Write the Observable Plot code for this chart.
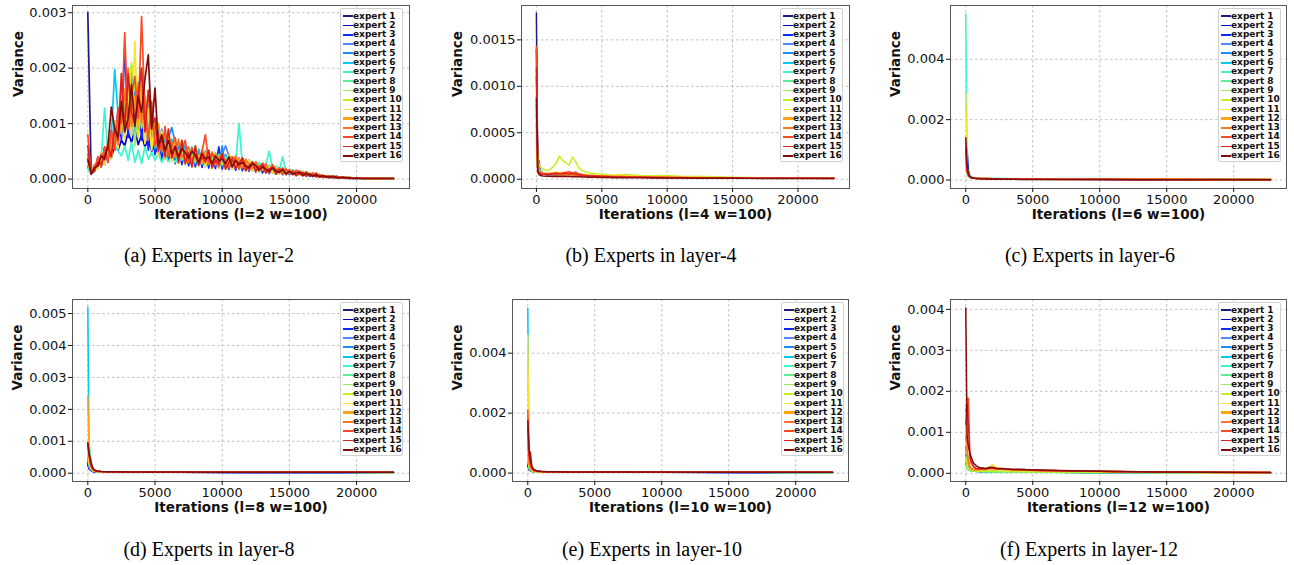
<!DOCTYPE html>
<html><head><meta charset="utf-8">
<script src="https://cdn.jsdelivr.net/npm/d3@7"></script>
<script src="https://cdn.jsdelivr.net/npm/@observablehq/plot@0.6"></script>
<style>
body{margin:0;background:#fff;}
#root{position:relative;width:1294px;height:565px;overflow:hidden;background:#fff;}
.panel{position:absolute;}
.legend{position:absolute;width:63px;height:154px;box-sizing:border-box;padding-top:2.6px;background:rgba(255,255,255,0.85);border:1px solid #d0d0d0;border-radius:2px;font:bold 9px "DejaVu Sans",sans-serif;color:#111;}
.legend .row{height:9.3px;line-height:9.3px;position:relative;white-space:nowrap;}
.legend .sw{position:absolute;left:2px;width:10px;top:50%;}
.legend .lb{position:absolute;left:12px;top:0;}
.caption{position:absolute;font:20px "Liberation Serif","Times New Roman",serif;white-space:nowrap;transform:translate(-50%,-50%);color:#000;}
</style></head>
<body><div id="root"></div>
<script>
const experts = ["expert 1","expert 2","expert 3","expert 4","expert 5","expert 6","expert 7","expert 8","expert 9","expert 10","expert 11","expert 12","expert 13","expert 14","expert 15","expert 16"];
const colors = ["#1c1c86","#0000cc","#0a2bff","#5088ff","#1a8cff","#00c8f5","#3cf5cf","#5aee98","#98ee5a","#c8f01e","#ffe12e","#ffa514","#ff7424","#ff4a26","#dc2020","#820c0c"];
const legendWidths = [2,1.2,2.2,2,2,1.6,2,2,1.4,2,1.3,2.2,2,2.2,1.6,2];
const xTicks = [0,5000,10000,15000,20000];
const xDomain = [-1140, 23940];

// ---- panel (a) layer 2, values in units of 1e-5 ----
const xA = [0,250,500,750,1000,1250,1500,1750,2000,2250,2500,2750,3000,3250,3500,3750,4000,4250,4500,4750,5000,5250,5500,5750,6000,6250,6500,6750,7000,7250,7500,7750,8000,8250,8500,8750,9000,9250,9500,9750,10000,10250,10500,10750,11000,11250,11500,11750,12000,12250,12500,12750,13000,13250,13500,13750,14000,14250,14500,14750,15000,15250,15500,15750,16000,16250,16500,16750,17000,17250,17500,17750,18000,18250,18500,18750,19000,19250,19500,19750,20000,20250,20500,20750,21000,21250,21500,21750,22000,22250,22500,22750];
const valsA = [
[300,10,17,33,30,50,42,70,64,105,88,140,100,150,98,140,92,118,74,96,60,78,50,66,44,58,40,52,36,48,33,45,31,43,30,41,28,38,27,36,26,36,25,34,23,31,21,28,19,26,17,24,16,21,14,19,12,17,11,15,10,14,9,12,8,11,7,9,6,8,4,6,3,5,3,4,2,3,2,2,1,2,1,1,1,1,1,1,1,1,1,1],
[22,9,20,26,34,30,46,40,58,52,70,60,85,66,90,62,80,58,72,50,62,44,52,40,46,36,42,33,40,30,36,28,35,27,33,26,32,25,30,24,29,23,27,22,26,21,24,20,22,18,20,16,18,15,17,13,15,12,13,11,11,10,9,9,8,7,7,6,5,5,4,4,3,3,2,2,2,2,1,1,1,1,1,1,1,1,1,1,1,1,1,1],
[30,10,14,40,22,58,30,88,52,128,70,242,75,185,82,160,70,140,52,118,44,95,36,80,32,70,28,64,26,60,24,56,22,52,21,50,20,46,19,58,18,44,17,40,16,38,15,34,14,31,13,29,11,26,10,23,9,20,8,18,8,16,7,15,6,13,5,11,4,8,3,6,3,5,2,4,2,3,1,2,1,2,1,2,1,1,1,1,1,1,1,1],
[45,11,26,22,46,34,66,45,98,62,165,80,190,88,170,92,180,75,140,70,110,48,90,42,78,37,70,33,64,31,58,28,55,27,52,26,49,25,46,24,45,60,42,22,39,21,36,20,33,19,31,17,28,15,25,14,22,12,20,11,17,10,15,9,13,8,11,6,9,5,7,4,6,3,5,3,4,2,3,1,2,1,1,1,1,1,1,1,1,1,1,1],
[28,11,24,18,48,25,70,36,105,55,150,72,172,80,178,76,150,64,128,52,102,42,86,36,74,93,66,28,60,26,56,24,53,23,50,22,47,21,46,20,60,19,42,18,40,17,37,16,35,15,30,13,27,12,24,11,21,9,19,8,17,8,15,7,13,6,11,5,9,4,7,3,6,3,4,2,4,2,3,1,2,1,2,1,1,1,1,1,1,1,1,1],
[40,12,20,36,28,52,38,76,198,118,82,160,96,205,90,175,110,150,70,120,55,100,48,82,42,72,38,66,34,60,30,58,28,54,27,50,26,47,25,45,24,44,23,40,22,37,21,33,20,30,18,27,16,24,14,21,12,19,11,17,10,15,9,13,8,11,7,9,6,8,5,6,4,5,3,4,2,3,2,2,1,2,1,1,1,1,1,1,1,1,1,1],
[20,8,22,30,38,128,45,55,60,50,42,60,34,66,30,52,28,58,36,48,34,46,30,44,32,40,30,44,34,46,32,44,36,40,30,46,34,42,30,44,32,40,30,38,28,100,26,34,24,32,22,30,20,26,50,18,24,16,40,14,18,12,16,11,14,9,12,8,10,6,7,4,6,3,5,3,4,2,3,2,2,1,2,1,1,1,1,1,1,1,1,1],
[26,9,21,24,42,36,60,50,90,76,125,98,145,105,142,96,128,80,104,66,84,54,70,46,60,40,54,37,50,34,46,32,44,30,42,29,39,27,38,26,36,25,34,24,32,22,29,20,27,18,24,16,22,14,20,13,17,11,15,10,14,9,12,8,11,7,9,6,8,5,6,4,5,3,4,3,3,2,2,1,2,1,1,1,1,1,1,1,1,1,1,1],
[32,10,17,33,30,50,42,70,64,105,88,140,130,150,60,140,92,118,74,96,60,78,50,66,44,58,40,52,36,48,33,45,31,43,30,41,28,38,27,36,26,36,25,34,23,31,21,28,19,26,17,24,16,21,14,19,12,17,11,15,10,14,9,12,8,11,7,9,6,8,4,6,3,5,3,4,2,3,2,2,1,2,1,1,1,1,1,1,1,1,1,1],
[35,10,16,30,26,44,60,40,92,70,190,90,120,210,160,150,200,85,160,95,110,50,75,40,90,38,60,30,70,28,48,22,60,25,40,30,52,20,34,28,46,18,30,36,20,28,38,15,24,30,14,22,26,11,18,21,9,16,18,8,13,14,6,11,12,5,9,8,4,7,5,3,5,4,2,3,3,1,2,2,1,2,1,1,1,1,1,1,1,1,1,1],
[28,11,24,18,48,25,70,36,105,55,150,72,172,80,248,76,150,64,128,52,102,42,86,36,74,31,66,28,60,26,56,24,53,23,50,22,47,21,46,20,44,19,42,18,40,17,37,16,35,15,30,13,27,12,24,11,21,9,19,8,17,8,15,7,13,6,11,5,9,4,7,3,6,3,4,2,4,2,3,1,2,1,2,1,1,1,1,1,1,1,1,1],
[40,12,20,36,28,52,38,76,58,118,82,160,180,120,150,90,175,110,150,95,75,100,60,82,48,55,72,40,66,34,48,30,58,38,28,50,34,26,47,30,38,24,44,30,22,37,26,33,20,25,30,18,22,27,14,21,16,19,11,17,13,10,15,8,11,9,7,10,6,8,5,6,4,5,3,4,2,3,2,2,1,2,1,1,1,1,1,1,1,1,1,1],
[45,11,26,22,46,34,66,45,98,62,120,150,200,95,130,170,100,140,80,110,90,55,70,85,45,60,40,72,38,50,58,34,45,27,52,40,30,49,25,40,45,28,35,22,42,30,20,36,27,19,31,22,17,28,14,25,18,12,20,15,17,10,12,15,8,13,7,11,9,5,7,4,6,3,5,3,4,2,3,1,2,1,1,1,1,1,1,1,1,1,1,1],
[80,10,14,40,22,58,30,88,52,128,100,264,90,150,185,110,293,120,70,140,60,80,50,95,40,60,75,35,52,70,30,56,40,26,50,80,28,46,36,22,44,30,20,40,34,18,38,25,16,31,22,15,29,18,11,26,14,20,9,18,12,8,16,10,6,13,8,5,11,4,3,6,4,2,5,3,2,3,1,2,1,2,1,2,1,1,1,1,1,1,1,1],
[60,10,16,30,26,44,60,40,92,70,190,90,190,120,100,150,200,85,160,95,110,50,75,40,90,38,60,30,70,28,48,22,60,25,40,30,52,20,34,28,46,18,30,36,20,28,38,15,24,30,14,22,26,11,18,21,9,16,18,8,13,14,6,11,12,5,9,8,4,7,5,3,5,4,2,3,3,1,2,2,1,2,1,1,1,1,1,1,1,1,1,1],
[35,9,21,24,42,36,60,130,90,76,140,85,110,170,95,150,120,180,224,90,164,60,80,52,70,45,58,40,55,48,38,50,44,30,46,36,40,28,42,33,36,28,40,22,34,26,30,24,20,28,25,16,22,18,14,20,15,12,17,10,14,9,11,12,7,10,8,5,8,4,6,4,3,5,3,2,3,2,2,1,2,1,1,1,1,1,1,1,1,1,1,1]
];

// ---- panel (b) layer 4, values in units of 1e-6 ----
const xB = [0,100,200,300,500,750,1000,1250,1500,1750,2000,2250,2500,2750,3000,3250,3500,3750,4000,4500,5000,5500,6000,7000,8000,9000,10000,11000,12000,13000,14000,15000,16000,18000,20000,22750];
const valsB = [
[1790,120,70,60,55,50,52,48,50,45,48,44,46,42,44,40,38,36,34,32,30,28,26,24,22,20,18,17,16,15,14,13,12,11,10,10],
[1400,140,80,62,56,52,55,50,52,48,50,46,48,44,45,42,40,38,36,33,31,29,27,25,22,20,19,18,16,15,14,13,12,11,10,10],
[1100,160,200,90,70,60,62,58,65,60,70,62,66,58,75,55,50,46,42,38,34,31,29,26,23,21,20,18,17,16,15,14,13,12,11,10],
[800,150,120,80,65,58,60,55,62,56,64,58,60,55,62,50,48,45,42,38,34,31,28,26,24,22,20,20,22,18,16,14,13,12,11,10],
[700,140,130,85,68,60,62,58,60,56,62,58,60,55,58,52,48,45,40,36,33,30,28,25,23,21,20,18,17,16,18,14,13,12,11,10],
[600,130,110,80,66,62,64,60,66,58,62,56,60,54,56,50,46,42,40,36,33,30,28,25,22,20,19,18,16,15,14,13,12,11,10,10],
[500,120,100,75,62,58,60,55,58,52,55,50,52,48,50,46,44,40,38,35,32,30,28,25,22,20,19,18,16,15,14,13,12,11,10,10],
[450,110,90,70,58,54,55,50,52,48,50,46,48,44,45,42,40,38,36,33,30,28,26,24,21,19,18,17,16,15,14,13,12,11,10,10],
[400,100,85,68,56,52,54,50,52,48,50,46,48,44,46,42,40,38,36,33,31,29,27,25,22,20,19,18,16,15,14,13,12,11,10,10],
[500,250,160,130,110,95,100,130,170,250,200,180,150,240,190,120,95,80,70,60,55,48,45,50,40,38,40,32,30,28,25,22,18,15,12,10],
[450,130,100,80,70,64,68,70,75,70,72,66,70,65,68,58,54,50,46,42,40,38,36,34,30,28,26,24,22,20,18,16,14,12,11,10],
[600,120,90,70,60,55,58,54,56,52,54,50,52,48,50,46,44,42,40,37,35,33,31,29,26,24,22,20,18,16,15,14,13,12,11,10],
[900,110,80,65,58,52,55,50,52,48,50,46,48,44,46,42,40,38,36,34,32,30,28,26,23,21,20,18,17,16,15,14,13,12,11,10],
[1430,120,85,70,62,58,60,65,70,62,68,75,80,70,72,55,48,42,38,34,31,28,26,24,21,19,18,17,16,15,14,13,12,11,10,10],
[1200,100,70,60,55,50,52,55,58,60,62,65,60,58,55,48,42,38,35,32,29,27,25,22,20,18,17,16,15,14,13,12,11,10,10,9],
[870,80,50,40,35,32,33,30,32,30,31,28,30,27,28,26,24,23,22,20,19,18,17,16,15,14,13,12,11,11,10,10,9,9,8,8]
];

// ---- panels (c), (d), (e): shared sampling grid, units of 1e-6 ----
const xCDE = [0,100,200,300,400,500,700,1000,1500,2000,3000,4000,5000,7000,10000,13000,16000,19000,22750];
const valsC = [
[900,300,150,100,80,70,60,50,45,40,35,30,28,25,22,20,18,16,15],
[700,400,180,110,85,72,60,52,46,42,36,32,29,26,23,20,18,16,15],
[400,1050,300,150,100,80,65,55,48,42,36,32,29,26,23,20,18,16,15],
[600,250,140,100,80,70,60,52,46,42,38,34,32,30,28,26,25,24,23],
[500,240,130,95,78,68,58,50,45,41,37,34,32,30,29,28,27,26,25],
[800,300,180,130,100,85,70,60,55,50,46,44,42,40,40,39,38,38,37],
[5500,400,200,140,110,90,75,65,58,52,48,46,44,42,40,40,39,38,38],
[500,230,130,95,80,70,60,54,50,46,40,36,33,30,28,26,24,22,20],
[450,220,120,90,75,65,56,50,45,41,36,32,30,27,25,23,21,19,18],
[700,280,150,110,85,72,62,55,50,45,40,36,33,30,27,25,23,21,20],
[2880,350,170,120,90,76,64,56,50,45,40,36,33,30,27,25,23,21,20],
[1200,300,160,110,85,72,62,55,50,45,40,36,33,30,27,25,23,21,20],
[900,280,150,105,82,70,60,54,48,44,38,34,31,28,25,23,21,19,18],
[1100,350,170,120,90,76,64,56,50,46,40,35,30,26,23,20,18,16,15],
[1000,300,150,100,80,68,58,50,44,40,34,30,26,22,19,17,15,14,13],
[1400,500,200,120,85,65,50,40,34,30,25,22,20,17,15,13,12,11,10]
];
const valsD = [
[300,150,100,70,55,48,42,38,34,32,30,28,27,26,25,24,23,22,22],
[250,130,90,65,52,46,40,36,33,31,29,28,27,26,25,24,23,22,22],
[350,160,100,72,56,48,42,38,34,32,30,29,28,27,26,25,24,23,22],
[500,200,120,80,62,52,45,40,36,33,31,30,29,28,27,26,25,24,23],
[600,220,130,85,65,54,46,41,37,34,32,31,30,29,28,27,26,25,24],
[5200,300,150,100,75,60,50,44,40,36,33,32,31,30,29,28,27,26,25],
[700,250,140,95,72,58,48,42,38,35,33,32,31,30,29,28,27,26,25],
[800,1000,500,200,120,85,60,48,42,38,35,33,32,31,30,29,28,27,26],
[600,350,200,120,85,65,52,45,40,36,33,32,31,30,29,28,27,26,25],
[700,300,160,100,75,60,50,44,40,36,33,32,31,30,29,28,27,26,25],
[800,300,160,100,75,60,50,44,40,36,33,32,31,30,29,28,27,26,25],
[2420,400,200,120,85,66,54,46,42,38,40,36,34,32,30,29,28,27,26],
[900,500,250,150,100,75,58,48,42,38,35,33,32,31,30,29,28,27,26],
[950,600,350,200,130,90,65,50,44,40,36,34,33,32,31,30,29,28,27],
[900,550,300,180,120,85,62,50,44,40,36,34,33,32,31,30,29,28,27],
[950,600,450,250,150,100,70,55,46,42,38,36,35,34,33,32,31,30,29]
];
const valsE = [
[300,120,80,60,50,45,40,36,33,31,30,29,28,27,26,25,24,23,22],
[250,110,75,58,48,44,39,35,32,30,29,28,27,26,25,24,23,22,22],
[300,130,85,62,50,45,40,36,33,31,30,29,28,27,26,25,24,23,22],
[400,150,90,65,52,46,41,37,34,32,30,29,28,27,26,25,24,23,22],
[500,160,95,68,54,48,42,38,35,33,31,30,29,28,27,26,25,24,23],
[5500,250,120,80,60,52,45,40,36,34,32,31,30,29,28,27,26,25,24],
[600,180,100,72,56,48,42,38,35,33,31,30,29,28,27,26,25,24,23],
[500,170,100,70,55,48,42,38,35,33,31,30,29,28,27,26,25,24,23],
[500,170,100,70,55,48,42,38,35,33,31,30,29,28,27,26,25,24,23],
[2000,250,130,85,62,52,45,40,36,34,32,31,30,29,28,27,26,25,24],
[4600,300,150,95,68,56,48,42,38,35,33,32,31,30,29,28,27,26,25],
[1200,280,150,100,75,60,50,44,40,36,34,32,31,30,29,28,27,26,25],
[1000,300,170,110,80,64,52,45,40,36,34,32,31,30,29,28,27,26,25],
[2100,500,300,180,120,90,65,52,45,40,36,34,33,32,31,30,29,28,27],
[1500,600,700,250,150,110,75,58,48,42,38,35,34,33,32,31,30,29,28],
[1750,800,400,200,140,100,72,56,46,42,38,36,35,34,33,32,31,30,29]
];

// ---- panel (f) layer 12, units of 1e-6 ----
const xF = [0,100,200,300,400,500,600,800,1000,1250,1500,1750,2000,2250,2500,2750,3000,3500,4000,4500,5000,5500,6000,6500,7000,8000,9000,10000,11000,12000,13000,14000,16000,18000,20000,22750];
const valsF = [
[300,150,100,80,70,60,55,50,45,42,40,38,36,35,34,33,32,30,29,28,27,26,25,24,23,22,21,20,19,18,17,16,15,14,13,12],
[250,140,95,78,68,58,54,50,46,43,41,39,37,36,35,34,33,31,30,29,28,27,26,25,24,23,22,21,20,19,18,17,16,15,14,13],
[350,160,100,82,70,60,55,50,46,44,42,40,38,37,36,35,34,32,30,29,28,27,26,25,24,23,22,21,20,19,18,17,16,15,14,13],
[640,250,120,90,75,64,58,52,48,46,44,42,40,39,38,37,36,34,32,31,30,29,28,27,26,25,24,23,22,21,20,19,18,17,16,15],
[500,200,110,85,72,62,56,50,46,44,42,40,38,37,36,35,34,32,30,29,28,27,26,25,24,23,22,21,20,19,18,17,16,15,14,13],
[400,180,100,80,70,60,54,50,46,44,42,40,38,37,36,35,34,32,30,29,28,27,26,25,24,23,22,21,20,19,18,17,16,15,14,13],
[300,150,90,75,65,58,52,48,45,43,41,39,37,36,35,34,33,31,29,28,27,26,25,24,23,22,21,20,19,18,17,16,15,14,13,12],
[200,120,80,65,58,52,48,45,42,40,38,36,35,34,33,32,31,30,28,27,26,25,24,23,22,21,20,19,18,17,16,15,14,13,12,11],
[350,160,95,78,66,58,53,48,45,43,41,39,37,36,35,34,33,31,29,28,27,26,25,24,23,22,21,20,19,18,17,16,15,14,13,12],
[400,180,110,88,75,66,60,55,52,60,58,62,70,65,60,58,55,52,50,48,46,44,42,40,38,35,32,30,28,26,24,22,20,18,16,15],
[500,520,300,180,130,110,100,95,110,130,120,150,210,140,125,110,100,95,90,85,80,75,70,65,60,55,50,45,42,38,34,30,26,22,20,18],
[1200,500,250,150,110,90,80,75,90,100,95,110,120,105,100,115,95,90,85,80,75,70,68,72,60,55,50,48,44,40,36,32,28,24,22,20],
[900,600,300,160,120,100,90,85,95,105,100,115,110,100,105,95,90,85,80,75,70,65,62,60,58,52,48,45,42,38,34,30,26,22,20,18],
[1500,1830,1830,400,250,200,150,110,100,110,105,120,130,115,110,105,100,90,85,80,75,70,66,64,62,56,52,48,44,40,36,32,28,24,22,20],
[1200,1700,1200,500,300,220,160,120,110,115,110,125,130,120,115,110,105,95,88,82,76,72,68,65,62,56,52,48,44,40,36,32,28,24,22,20],
[4030,900,650,500,400,310,240,180,140,130,120,140,150,125,110,120,105,95,100,90,85,80,75,72,68,60,55,50,46,42,38,34,30,26,24,22]
];

const captions = ["(a) Experts in layer-2","(b) Experts in layer-4","(c) Experts in layer-6","(d) Experts in layer-8","(e) Experts in layer-10","(f) Experts in layer-12"];
const xLabels = ["Iterations (l=2 w=100)","Iterations (l=4 w=100)","Iterations (l=6 w=100)","Iterations (l=8 w=100)","Iterations (l=10 w=100)","Iterations (l=12 w=100)"];

const panels = [
  {x:xA, vals:valsA, unit:1e-5, sw:1.7, left:0, top:0, w:430, ml:72, mr:21, mt:5, mb:42, ydom:[-0.00017,0.00313], yticks:[0,0.001,0.002,0.003], dec:3, yoff:54, lx:340, ly:8, cx:209, cy:255},
  {x:xB, vals:valsB, unit:1e-6, sw:1.5, left:440, top:0, w:430, ml:81, mr:21, mt:5, mb:42, ydom:[-0.0001,0.00187], yticks:[0,0.0005,0.001,0.0015], dec:4, yoff:64, lx:780, ly:8, cx:651, cy:255},
  {x:xCDE, vals:valsC, unit:1e-6, sw:1.5, left:870, top:0, w:424, ml:80, mr:8, mt:5, mb:42, ydom:[-0.00028,0.00578], yticks:[0,0.002,0.004], dec:3, yoff:55, lx:1218, ly:8, cx:1090, cy:255},
  {x:xCDE, vals:valsD, unit:1e-6, sw:1.5, left:0, top:290, w:430, ml:72, mr:21, mt:9, mb:39, ydom:[-0.00026,0.00544], yticks:[0,0.001,0.002,0.003,0.004,0.005], dec:3, yoff:55, lx:340, ly:302, cx:209, cy:549},
  {x:xCDE, vals:valsE, unit:1e-6, sw:1.5, left:440, top:290, w:430, ml:72, mr:22, mt:9, mb:39, ydom:[-0.00028,0.00579], yticks:[0,0.002,0.004], dec:3, yoff:55, lx:781, ly:302, cx:652, cy:549},
  {x:xF, vals:valsF, unit:1e-6, sw:1.5, left:870, top:290, w:424, ml:80, mr:8, mt:9, mb:39, ydom:[-0.0002,0.00424], yticks:[0,0.001,0.002,0.003,0.004], dec:3, yoff:55, lx:1218, ly:302, cx:1089, cy:549}
];

const root = document.getElementById("root");
const gridStyle = {stroke:"#b0b0b0", strokeOpacity:1, strokeDasharray:"2.5,2.5", strokeWidth:0.8};

panels.forEach((p, k) => {
  const table = [];
  p.vals.forEach((row, e) => row.forEach((v, i) => table.push({iter: p.x[i], variance: v * p.unit, expert: experts[e]})));
  const svg = Plot.plot({
    width: p.w, height: 230,
    marginLeft: p.ml, marginRight: p.mr, marginTop: p.mt, marginBottom: p.mb,
    style: {fontFamily: "'DejaVu Sans', sans-serif", fontSize: "13px", color: "#111", background: "transparent", overflow: "visible"},
    x: {domain: xDomain},
    y: {domain: p.ydom},
    color: {type: "ordinal", domain: experts, range: colors},
    marks: [
      Plot.gridX(xTicks, gridStyle),
      Plot.gridY(p.yticks, gridStyle),
      Plot.line(table, {x: "iter", y: "variance", z: "expert", stroke: "expert", strokeWidth: p.sw}),
      Plot.frame({stroke: "#555", strokeWidth: 1}),
      Plot.axisX(xTicks, {tickSize: 4, tickPadding: 2, tickFormat: d => String(d), label: null, fontSize: 13}),
      Plot.axisY(p.yticks, {tickSize: 4, tickPadding: 2, tickFormat: d => d.toFixed(p.dec), label: null, fontSize: 13}),
      Plot.text([xLabels[k]], {text: d => d, frameAnchor: "bottom", lineAnchor: "middle", dy: 26, fontWeight: "bold", fontSize: 13.5}),
      Plot.text(["Variance"], {text: d => d, frameAnchor: "left", lineAnchor: "middle", rotate: -90, dx: -p.yoff, fontWeight: "bold", fontSize: 13.5})
    ]
  });
  const wrap = document.createElement("div");
  wrap.className = "panel";
  wrap.style.left = p.left + "px";
  wrap.style.top = p.top + "px";
  wrap.appendChild(svg);
  root.appendChild(wrap);

  const leg = document.createElement("div");
  leg.className = "legend";
  leg.style.left = p.lx + "px";
  leg.style.top = p.ly + "px";
  experts.forEach((name, e) => {
    const row = document.createElement("div");
    row.className = "row";
    const sw = document.createElement("span");
    sw.className = "sw";
    sw.style.height = legendWidths[e] + "px";
    sw.style.marginTop = (-legendWidths[e] / 2) + "px";
    sw.style.background = colors[e];
    const lb = document.createElement("span");
    lb.className = "lb";
    lb.textContent = name;
    row.appendChild(sw); row.appendChild(lb);
    leg.appendChild(row);
  });
  root.appendChild(leg);

  const cap = document.createElement("div");
  cap.className = "caption";
  cap.style.left = p.cx + "px";
  cap.style.top = p.cy + "px";
  cap.textContent = captions[k];
  root.appendChild(cap);
});
</script>
</body></html>
